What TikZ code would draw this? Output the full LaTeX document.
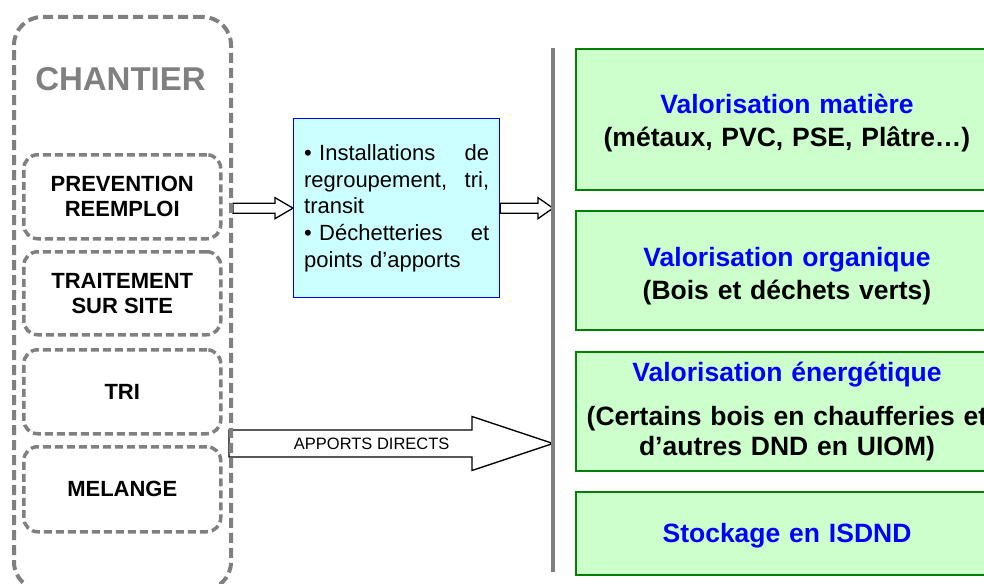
\documentclass[tikz,border=0pt]{standalone}
\usepackage{fontspec}
\setmainfont{Liberation Sans}
\usetikzlibrary{calc,backgrounds}
\definecolor{dashgrey}{HTML}{808080}
\definecolor{greenfill}{HTML}{CCFFCC}
\definecolor{greenedge}{HTML}{008000}
\definecolor{cyanfill}{HTML}{CCFFFF}
\definecolor{textblue}{HTML}{0000FF}
\newcommand{\hollowarrow}[5]{%
  \path[hollow] let \p1=(#1), \p2=(#2) in
  (\x1,\y1+#3) -- (\x2-#5,\y1+#3) -- (\x2-#5,\y1+#4) -- (\x2,\y1)
  -- (\x2-#5,\y1-#4) -- (\x2-#5,\y1-#3) -- (\x1,\y1-#3) -- cycle;}
\tikzset{
  outerbox/.style={draw=dashgrey, line width=4pt, dash pattern=on 10pt off 5pt, rounded corners=28pt,
    minimum width=217pt, minimum height=573pt, anchor=north west, inner sep=0pt},
  stagebox/.style={draw=dashgrey, line width=3.5pt, dash pattern=on 8pt off 4pt, rounded corners=14pt,
    minimum width=197pt, anchor=north west, inner sep=0pt, align=center,
    font=\fontsize{22}{25}\selectfont\bfseries},
  hubbox/.style={draw=textblue, fill=cyanfill, line width=1.3pt, minimum width=206pt, minimum height=179pt,
    anchor=north west, inner xsep=10.5pt, text width=185pt, align=left,
    font=\fontsize{22}{26.7}\selectfont},
  outbox/.style={draw=greenedge, fill=greenfill, line width=2pt, minimum width=422pt, anchor=north west,
    text width=410pt, align=center, font=\fontsize{26.5}{30}\selectfont\bfseries},
  hollow/.style={draw=black, fill=white, line width=1.3pt},
  divider/.style={draw=dashgrey, line width=4pt},
  titlestyle/.style={font=\fontsize{33}{33}\selectfont\bfseries, text=dashgrey},
  arrowlabel/.style={font=\fontsize{16.5}{18}\selectfont},
}
\begin{document}
\begin{tikzpicture}[x=1pt,y=-1pt]
\clip (0,0) rectangle (984,583);
% left container
\node[outerbox] (outer) at (12,15) {};
\node[titlestyle] (title) at (120.5,79.5) {CHANTIER};
\node[stagebox, minimum height=84pt] (prev) at (22,153) {PREVENTION\\REEMPLOI};
\node[stagebox, minimum height=83pt] (trait) at (22,250) {TRAITEMENT\\SUR SITE};
\node[stagebox, minimum height=84pt] (boxtri) at (22,348) {TRI};
\node[stagebox, minimum height=85pt] (mel) at (22,445) {MELANGE};
% hub
\node[hubbox] (hub) at (293,118) {%
  • Installations \hfill de\\
  regroupement, \hfill tri,\\
  transit\\
  • Déchetteries \hfill et\\
  points d’apports};
% divider
\coordinate (vtop) at (553,48);
\coordinate (vbot) at (553,572);
\draw[divider] (vtop) -- (vbot);
% outcomes
\node[outbox, minimum height=141pt] (mat) at (575,48) {%
  \rule{0pt}{27pt}\textcolor{textblue}{Valorisation matière}\\[3pt](métaux, PVC, PSE, Plâtre…)};
\node[outbox, minimum height=119pt] (org) at (575,210) {%
  \rule{0pt}{30pt}\textcolor{textblue}{Valorisation organique}\\[3pt](Bois et déchets verts)};
\node[outbox, minimum height=119pt] (ener) at (575,351) {%
  \textcolor{textblue}{Valorisation énergétique}\\[14pt](Certains bois en chaufferies et\\d’autres DND en UIOM)};
\node[outbox, minimum height=83pt] (stock) at (575,491) {%
  \rule{0pt}{23pt}\textcolor{textblue}{Stockage en ISDND}};
% arrows
\coordinate (bigstart) at (229,443.5);
\begin{pgfonlayer}{background}
  \hollowarrow{outer.east |- hub.west}{hub.west}{5pt}{10.5pt}{18pt}
  \hollowarrow{hub.east}{vtop |- hub.east}{5pt}{10.5pt}{15pt}
  \hollowarrow{bigstart}{vtop |- bigstart}{13.5pt}{27pt}{81pt}
\end{pgfonlayer}
\node[arrowlabel] (direct) at (371.7,443.5) {APPORTS DIRECTS};
\end{tikzpicture}
\end{document}
